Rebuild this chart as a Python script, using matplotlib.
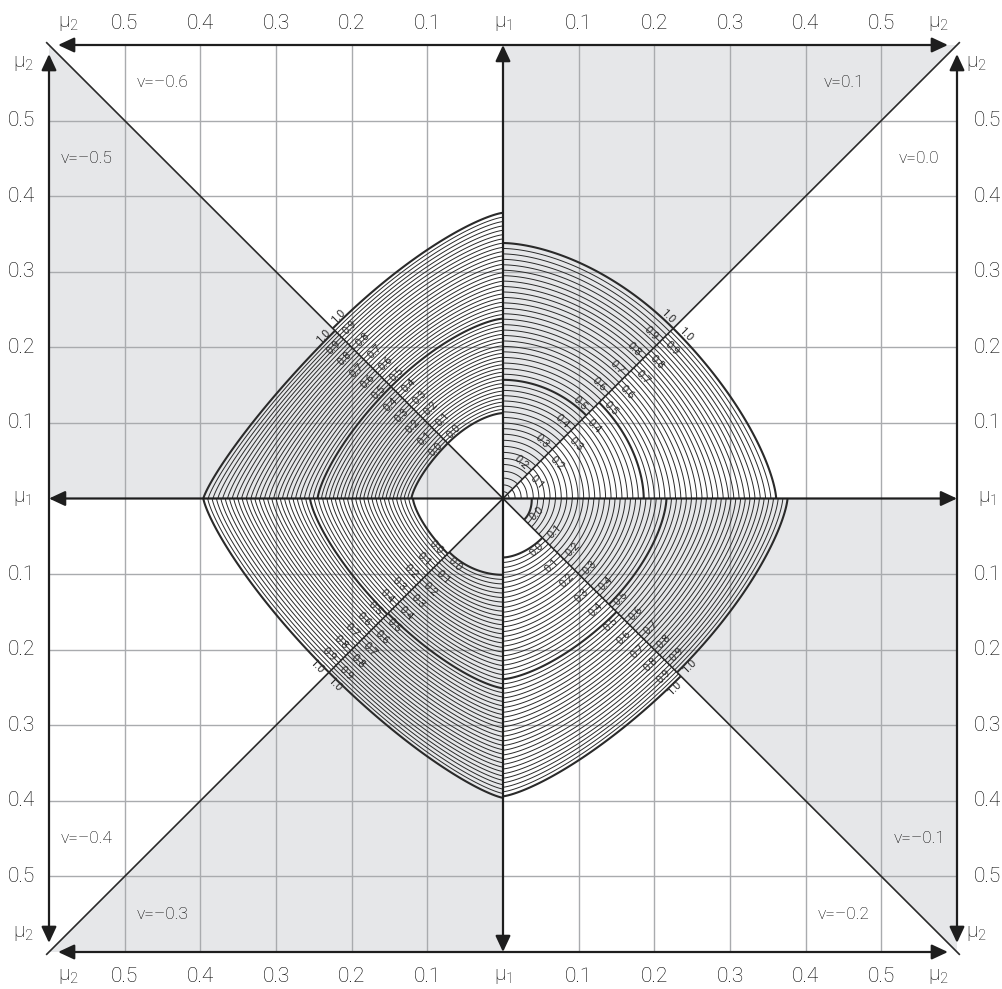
import numpy as np
import matplotlib.pyplot as plt
from matplotlib.patches import FancyArrowPatch, Polygon

plt.rcParams['font.family'] = ['Roboto', 'DejaVu Sans']
plt.rcParams['mathtext.fontset'] = 'custom'
plt.rcParams['mathtext.rm'] = 'Roboto:light'
plt.rcParams['mathtext.it'] = 'Roboto:light'

# --- Data ---
# omega steps that carry a label along the diagonals
omega_steps = [0.0, 0.1, 0.2, 0.3, 0.4, 0.5, 0.6, 0.7, 0.8, 0.9, 1.0]

# octants counter-clockwise, starting just above the +mu1 axis (right)
nu_values = [0.0, 0.1, -0.6, -0.5, -0.4, -0.3, -0.2, -0.1]
shaded = [False, True, False, True, False, True, False, True]

# mu1 where a curve meets the axis (mu2 = 0), and mu1 = mu2 where it meets the diagonal
axis_nu_00 = [0.000, 0.040, 0.077, 0.114, 0.150, 0.186, 0.221, 0.256, 0.291, 0.326, 0.361]
diag_nu_00 = [0.000, 0.029, 0.055, 0.080, 0.104, 0.127, 0.148, 0.169, 0.188, 0.207, 0.225]
axis_nu_p01 = [np.nan, 0.000, 0.045, 0.085, 0.122, 0.157, 0.194, 0.230, 0.266, 0.302, 0.338]
diag_nu_p01 = [np.nan, 0.000, 0.032, 0.060, 0.086, 0.110, 0.135, 0.158, 0.181, 0.203, 0.225]
axis_nu_m06 = [0.113, 0.137, 0.162, 0.187, 0.212, 0.238, 0.265, 0.293, 0.321, 0.349, 0.378]
diag_nu_m06 = [0.073, 0.088, 0.103, 0.118, 0.133, 0.148, 0.163, 0.178, 0.194, 0.210, 0.225]
axis_nu_m05 = [0.121, 0.145, 0.169, 0.194, 0.219, 0.245, 0.274, 0.303, 0.333, 0.364, 0.396]
diag_nu_m05 = [0.073, 0.088, 0.103, 0.118, 0.133, 0.148, 0.163, 0.178, 0.193, 0.208, 0.222]
axis_nu_m04 = [0.119, 0.146, 0.173, 0.200, 0.227, 0.255, 0.283, 0.311, 0.339, 0.367, 0.396]
diag_nu_m04 = [0.073, 0.089, 0.105, 0.121, 0.137, 0.153, 0.168, 0.183, 0.198, 0.214, 0.230]
axis_nu_m03 = [0.101, 0.131, 0.161, 0.191, 0.221, 0.251, 0.280, 0.309, 0.338, 0.367, 0.396]
diag_nu_m03 = [0.071, 0.088, 0.104, 0.120, 0.136, 0.152, 0.168, 0.184, 0.200, 0.215, 0.230]
axis_nu_m02 = [0.078, 0.111, 0.144, 0.176, 0.208, 0.239, 0.270, 0.302, 0.333, 0.364, 0.394]
diag_nu_m02 = [0.052, 0.072, 0.092, 0.112, 0.131, 0.150, 0.168, 0.186, 0.203, 0.220, 0.235]
axis_nu_m01 = [0.038, 0.077, 0.113, 0.148, 0.182, 0.216, 0.249, 0.282, 0.314, 0.345, 0.376]
diag_nu_m01 = [0.028, 0.052, 0.076, 0.099, 0.120, 0.140, 0.160, 0.179, 0.197, 0.214, 0.230]

axis_tables = [axis_nu_00, axis_nu_p01, axis_nu_m06, axis_nu_m05,
               axis_nu_m04, axis_nu_m03, axis_nu_m02, axis_nu_m01]
diag_tables = [diag_nu_00, diag_nu_p01, diag_nu_m06, diag_nu_m05,
               diag_nu_m04, diag_nu_m03, diag_nu_m02, diag_nu_m01]

tick_values = [0.1, 0.2, 0.3, 0.4, 0.5]

# local (u along mu1 axis, v along mu2) -> data (x, y) for each octant
octant_maps = [
    np.array([[1, 0], [0, 1]]),
    np.array([[0, 1], [1, 0]]),
    np.array([[0, -1], [1, 0]]),
    np.array([[-1, 0], [0, 1]]),
    np.array([[-1, 0], [0, -1]]),
    np.array([[0, -1], [-1, 0]]),
    np.array([[0, 1], [-1, 0]]),
    np.array([[1, 0], [0, -1]]),
]

LIM = 0.6
LINE = '#2a2a2a'
GRID = '#a9abae'
FILL = '#e6e7e9'

fig = plt.figure(figsize=(10.02, 9.89), dpi=100)
ax = fig.add_axes([49 / 1002, 1 - 952 / 989, 908 / 1002, 907 / 989])
ax.set_xlim(-LIM, LIM)
ax.set_ylim(-LIM, LIM)
ax.axis('off')

# grey octants
for k, M in enumerate(octant_maps):
    if shaded[k]:
        tri = np.array([[0, 0], [LIM, 0], [LIM, LIM]]) @ M.T
        ax.add_patch(Polygon(tri, closed=True, facecolor=FILL, edgecolor='none', zorder=0))

# grid
for v in tick_values:
    for s in (-1, 1):
        ax.plot([s * v, s * v], [-LIM, LIM], color=GRID, lw=1.0, zorder=1)
        ax.plot([-LIM, LIM], [s * v, s * v], color=GRID, lw=1.0, zorder=1)

# omega curves
omega_fine = np.round(np.arange(0, 1.0001, 0.02), 2)
t = np.linspace(0, np.pi / 4, 80)
for k, M in enumerate(octant_maps):
    A = np.array(axis_tables[k], dtype=float)
    D = np.array(diag_tables[k], dtype=float)
    ok = ~np.isnan(A)
    om = np.array(omega_steps)[ok]
    for w in omega_fine:
        if w < om[0] - 1e-9:
            continue
        a = np.interp(w, om, A[ok])
        b = np.interp(w, om, D[ok])
        if a < 1e-4:
            continue
        n = np.log(2) / np.log(a / b)
        u = a * np.cos(t) ** (2 / n)
        v = a * np.sin(t) ** (2 / n)
        xy = np.column_stack([u, v]) @ M.T
        thick = abs(w - 0.0) < 1e-9 or abs(w - 0.5) < 1e-9 or abs(w - 1.0) < 1e-9
        ax.plot(xy[:, 0], xy[:, 1], color=LINE, lw=1.5 if thick else 0.7,
                zorder=2, solid_capstyle='butt')

    # labels along the diagonal
    perp = np.array([1, -1]) / np.sqrt(2)
    tang = M @ np.array([1, -1])
    rot = np.degrees(np.arctan2(tang[1], tang[0]))
    if rot > 90:
        rot -= 180
    if rot <= -90:
        rot += 180
    for i, w in enumerate(omega_steps):
        if np.isnan(D[i]) or D[i] < 0.01:
            continue
        p = np.array([D[i] + 0.004, D[i] + 0.004]) + 0.017 * perp
        x, y = M @ p
        ax.text(x, y, f'{w:.1f}', fontsize=8, rotation=rot, ha='center', va='center',
                color=LINE, zorder=4, rotation_mode='anchor')

# diagonals
ax.plot([-0.603, 0.603], [-0.603, 0.603], color=LINE, lw=1.2, zorder=3, clip_on=False)
ax.plot([-0.603, 0.603], [0.603, -0.603], color=LINE, lw=1.2, zorder=3, clip_on=False)


def arrow(p0, p1):
    ax.add_patch(FancyArrowPatch(p0, p1, arrowstyle='<|-|>,head_length=0.75,head_width=0.35',
                                 mutation_scale=13, color='#1e1e1e', lw=1.6,
                                 shrinkA=0, shrinkB=0, zorder=3, clip_on=False))


arrow((-LIM, 0), (LIM, 0))
arrow((0, -LIM), (0, LIM))
E = 0.588
arrow((-E, LIM), (E, LIM))
arrow((-E, -LIM), (E, -LIM))
arrow((-LIM, -E), (-LIM, E))
arrow((LIM, -E), (LIM, E))

# scale labels round the frame
TF = 15
tk = dict(fontsize=TF, ha='center', va='center', fontweight='light', clip_on=False)
mu1 = r'$\mu_1$'
mu2 = r'$\mu_2$'
for v in tick_values:
    for s in (-1, 1):
        lab = f'{v:.1f}'
        ax.text(s * v, 0.628, lab, **tk)
        ax.text(s * v, -0.633, lab, **tk)
        ax.text(-0.636, s * v, lab, **tk)
        ax.text(0.640, s * v, lab, **tk)
ax.text(0, 0.628, mu1, **tk)
ax.text(0, -0.633, mu1, **tk)
ax.text(-0.636, 0, mu1, **tk)
ax.text(0.640, 0, mu1, **tk)
for s in (-1, 1):
    ax.text(s * 0.575, 0.628, mu2, **tk)
    ax.text(s * 0.575, -0.633, mu2, **tk)
    ax.text(-0.634, s * 0.575, mu2, **tk)
    ax.text(0.626, s * 0.575, mu2, **tk)

# nu labels inside each octant
for k, M in enumerate(octant_maps):
    x, y = M @ np.array([0.55, 0.45])
    ax.text(x, y, f'ν={nu_values[k]:.1f}'.replace('-', '–'), fontsize=12.5,
            fontweight='light', ha='center', va='center', zorder=4)

fig.savefig('out.png', dpi=100)
